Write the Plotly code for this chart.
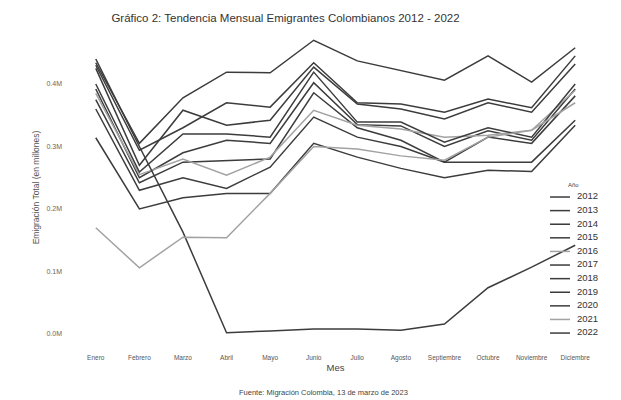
import plotly.graph_objects as go

meses = ["Enero", "Febrero", "Marzo", "Abril", "Mayo", "Junio", "Julio",
         "Agosto", "Septiembre", "Octubre", "Noviembre", "Diciembre"]

y2012 = [0.314, 0.200, 0.218, 0.225, 0.225, 0.305, 0.283, 0.265, 0.250, 0.262, 0.260, 0.334]
y2013 = [0.360, 0.230, 0.250, 0.233, 0.267, 0.347, 0.315, 0.300, 0.275, 0.275, 0.275, 0.342]
y2014 = [0.375, 0.242, 0.275, 0.278, 0.280, 0.386, 0.330, 0.310, 0.275, 0.315, 0.305, 0.381]
y2015 = [0.392, 0.250, 0.290, 0.310, 0.305, 0.402, 0.335, 0.333, 0.300, 0.325, 0.310, 0.392]
y2016 = [0.385, 0.255, 0.280, 0.254, 0.283, 0.358, 0.334, 0.328, 0.315, 0.318, 0.326, 0.390]
y2017 = [0.400, 0.259, 0.320, 0.320, 0.315, 0.419, 0.339, 0.339, 0.307, 0.330, 0.315, 0.400]
y2018 = [0.425, 0.270, 0.358, 0.334, 0.342, 0.427, 0.368, 0.360, 0.344, 0.370, 0.355, 0.432]
y2019 = [0.430, 0.294, 0.330, 0.370, 0.363, 0.434, 0.370, 0.368, 0.355, 0.376, 0.362, 0.445]
y2020 = [0.440, 0.300, 0.163, 0.002, 0.005, 0.008, 0.008, 0.006, 0.016, 0.074, 0.107, 0.142]
y2021 = [0.170, 0.106, 0.155, 0.154, 0.225, 0.300, 0.296, 0.285, 0.278, 0.315, 0.326, 0.370]
y2022 = [0.434, 0.305, 0.378, 0.419, 0.418, 0.470, 0.437, 0.422, 0.406, 0.445, 0.403, 0.458]

anios = ["2012", "2013", "2014", "2015", "2016", "2017", "2018", "2019", "2020", "2021", "2022"]
valores = [y2012, y2013, y2014, y2015, y2016, y2017, y2018, y2019, y2020, y2021, y2022]
claros = {"2016", "2021"}

tick_vals = [0.0, 0.1, 0.2, 0.3, 0.4]
tick_text = ["0.0M", "0.1M", "0.2M", "0.3M", "0.4M"]

DARK = "#3c3c3c"
LIGHT = "#a2a2a2"

fig = go.Figure()
for anio, vals in zip(anios, valores):
    fig.add_trace(go.Scatter(
        x=meses, y=vals, mode="lines", name=anio, showlegend=False,
        line=dict(color=LIGHT if anio in claros else DARK, width=1.5),
        xaxis="x", yaxis="y",
    ))

# legend drawn on a small overlay axis (one row per year)
LEG_LINE = [5, 25]
LEG_TEXT_X = 32
for i, anio in enumerate(anios):
    fig.add_trace(go.Scatter(
        x=LEG_LINE, y=[i, i], mode="lines", showlegend=False, hoverinfo="skip",
        line=dict(color=LIGHT if anio in claros else DARK, width=1.5),
        xaxis="x2", yaxis="y2",
    ))
fig.add_trace(go.Scatter(
    x=[LEG_TEXT_X] * len(anios), y=list(range(len(anios))), mode="text",
    text=anios, textposition="middle right", cliponaxis=False, showlegend=False,
    textfont=dict(size=9.5, color="#333333"), hoverinfo="skip",
    xaxis="x2", yaxis="y2",
))

fig.update_layout(
    width=613, height=392,
    margin=dict(l=66, r=24, t=22, b=55, autoexpand=False),
    paper_bgcolor="white", plot_bgcolor="rgba(0,0,0,0)",
    font=dict(family="Liberation Sans, Arial, sans-serif", color="#666666"),
    title=dict(text="Gráfico 2: Tendencia Mensual Emigrantes Colombianos 2012 - 2022",
               xref="container", x=0.4527, xanchor="center",
               yref="container", y=1 - 10 / 392, yanchor="middle",
               font=dict(size=11.5, color="#333333")),
    xaxis=dict(range=[-0.5, 11.5], showgrid=False, zeroline=False, showline=False,
               ticks="", tickfont=dict(size=6.5, color="#555555"), ticklabelstandoff=7,
               title=dict(text="Mes", font=dict(size=9.5, color="#444444"), standoff=3)),
    yaxis=dict(range=[-0.0176, 0.4864], tickvals=tick_vals, ticktext=tick_text,
               showgrid=False, zeroline=False, showline=False, ticks="",
               tickfont=dict(size=7, color="#666666"), ticklabelstandoff=11,
               title=dict(text="Emigración Total (en millones)",
                          font=dict(size=8.5, color="#555555"), standoff=5)),
    xaxis2=dict(domain=[0.9006, 1.0], range=[0, 52], visible=False, fixedrange=True,
                anchor="y2"),
    yaxis2=dict(domain=[0.01587, 0.5238], range=[10.51, -1.25], visible=False,
                fixedrange=True, anchor="x2"),
    annotations=[
        dict(text="Año", x=28, xref="x2", y=-0.9, yref="y2", showarrow=False,
             xanchor="center", yanchor="middle", font=dict(size=6, color="#444444")),
        dict(text="Fuente: Migración Colombia, 13 de marzo de 2023",
             xref="paper", x=(315 - 66) / 523, yref="paper", y=(337 - 384) / 315,
             xanchor="center", yanchor="middle", showarrow=False,
             font=dict(size=7.5, color="#444444")),
    ],
    showlegend=False,
)

fig.write_html("out.html")
